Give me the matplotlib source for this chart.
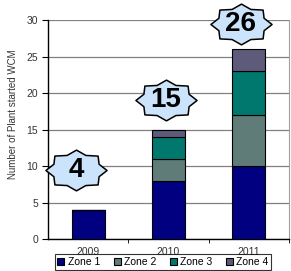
import numpy as np
import matplotlib
matplotlib.use("Agg")
import matplotlib.pyplot as plt
from matplotlib.path import Path

plt.rcParams['font.family'] = ['Liberation Sans', 'DejaVu Sans']

years = ["2009", "2010", "2011"]
zones = ["Zone 1", "Zone 2", "Zone 3", "Zone 4"]
zone1 = [4, 8, 10]
zone2 = [0, 3, 7]
zone3 = [0, 3, 6]
zone4 = [0, 1, 3]
totals = [4, 15, 26]

colors = ["#000080", "#5f7c78", "#00786e", "#5d5a7a"]

fig = plt.figure(figsize=(2.91, 2.71), dpi=100)
ax = fig.add_axes([0.165, 0.118, 0.828, 0.808])

x = np.arange(len(years))
bottom = np.zeros(len(years))
for name, vals, c in zip(zones, [zone1, zone2, zone3, zone4], colors):
    ax.bar(x, vals, width=0.41, bottom=bottom, color=c, edgecolor="black",
           linewidth=0.8, label=name, zorder=3)
    bottom += np.array(vals)

ax.set_xlim(-0.5, 2.5)
ax.set_ylim(0, 30)
ax.set_yticks(range(0, 31, 5))
ax.set_xticks(x)
ax.set_xticklabels(years)
ax.set_xticks([0.5, 1.5, 2.5], minor=True)
ax.tick_params(axis="x", which="major", length=0, pad=6)
ax.tick_params(axis="x", which="minor", length=3, direction="out")
ax.tick_params(axis="y", length=4, direction="out", pad=3)
ax.tick_params(labelsize=7.5, labelcolor="#333333")
ax.grid(axis="y", color="#808080", linewidth=0.9, zorder=0)
ax.spines["top"].set_visible(False)
ax.spines["right"].set_color("#a0a0a0")
ax.spines["left"].set_linewidth(1.0)
ax.spines["bottom"].set_linewidth(1.0)

ax.set_ylabel("Number of Plant started WCM", fontsize=7, color="#333333")
ax.yaxis.set_label_coords(-0.125, 0.57)

# 8-point star, wider than tall
ang = np.linspace(np.pi / 2, np.pi / 2 + 2 * np.pi, 17)
rad = np.where(np.arange(17) % 2 == 0, 1.0, 0.8)
verts = np.column_stack([1.5 * rad * np.cos(ang), rad * np.sin(ang)])
star = Path(verts, closed=True)

star_pos = [(-0.15, 9.45), (0.97, 19.0), (1.9, 29.45)]
for (sx, sy), t in zip(star_pos, totals):
    ax.plot(sx, sy, marker=star, ms=44, mfc="#cce4fb", mec="black",
            mew=1.1, zorder=5, clip_on=False)
    ax.text(sx, sy, str(t), fontsize=20, fontweight="bold", ha="center",
            va="center", zorder=6, clip_on=False)

leg = fig.legend(loc="center", bbox_to_anchor=(0.56, 0.033), ncol=4,
                 fontsize=7.5, frameon=True, fancybox=False, edgecolor="black",
                 handlelength=0.7, handleheight=0.7, handletextpad=0.3,
                 columnspacing=1.3, borderpad=0.25, borderaxespad=0)
leg.get_frame().set_linewidth(0.8)

fig.savefig("out.png", dpi=100)
